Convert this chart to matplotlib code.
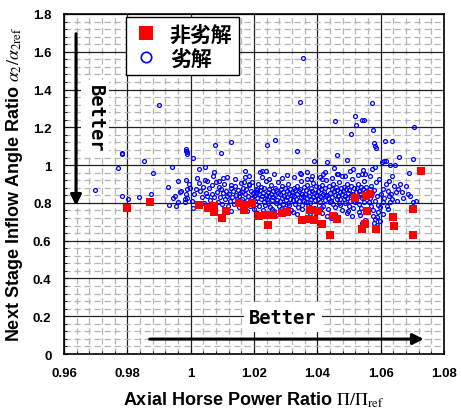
import numpy as np
import matplotlib.pyplot as plt
from matplotlib.ticker import MultipleLocator, FixedLocator

plt.rcParams['mathtext.fontset'] = 'stix'

# non-dominated solutions (red squares)
nd_x = [0.9800, 0.9872, 1.0026, 1.0056, 1.0074, 1.0075, 1.0100, 1.0111, 1.0154, 1.0169,
        1.0167, 1.0195, 1.0217, 1.0235, 1.0245, 1.0259, 1.0287, 1.0303, 1.0351, 1.0377,
        1.0375, 1.0390, 1.0403, 1.0414, 1.0440, 1.0449, 1.0461, 1.0519, 1.0542, 1.0551,
        1.0556, 1.0554, 1.0566, 1.0585, 1.0640, 1.0643, 1.0701, 1.0702, 1.0727]
nd_y = [0.774, 0.803, 0.789, 0.774, 0.785, 0.750, 0.722, 0.757, 0.798, 0.789,
        0.764, 0.798, 0.729, 0.736, 0.685, 0.736, 0.748, 0.750, 0.709, 0.764,
        0.713, 0.711, 0.755, 0.688, 0.632, 0.732, 0.713, 0.826, 0.662, 0.690,
        0.755, 0.835, 0.847, 0.662, 0.727, 0.679, 0.768, 0.632, 0.970]

# dominated solutions (blue open circles), "x y" pairs
dom_pts = """
0.9698 0.870 0.9770 0.986 0.9784 1.059 0.9854 1.020 0.9881 0.958 0.9784 0.836
0.9801 0.821 0.9836 0.829 0.9874 0.845 0.9784 1.063 0.9900 1.318
0.9942 0.992 0.9929 0.882 0.9932 0.789 0.9953 0.782 0.9943 0.826 0.9952 0.835
0.9961 0.916 0.9984 0.921 0.9995 0.898 0.9997 0.879 0.9984 0.849 0.9966 0.858
0.9990 0.824 0.9983 0.803 0.9970 0.865 0.9989 0.873 0.9961 0.803 0.9982 0.821
1.0021 0.933 1.0026 0.979 1.0044 0.992 1.0073 0.962 1.0008 1.038 0.9985 1.075
0.9990 1.059 0.9988 1.068 0.9986 1.083 1.0171 0.939 1.0173 0.970 1.0185 0.901
1.0209 0.870 1.0103 0.930 1.0053 0.916 1.0080 0.912
1.0355 1.567 1.0344 1.336 1.0573 1.330 1.0455 1.232 1.0518 1.260 1.0523 1.214
1.0542 1.240 1.0546 1.240 1.0577 1.184 1.0507 1.166 1.0704 1.203 1.0615 1.129
1.0636 1.129 1.0580 1.115 1.0583 1.103 1.0585 1.092 1.0078 1.108 1.0126 1.124
1.0240 1.105 1.0266 1.133 1.0337 1.075 1.0095 1.066 1.0390 1.023 1.0431 1.015
1.0461 1.053 1.0493 1.029 1.0454 0.985 1.0224 0.967 1.0238 0.967 1.0703 1.032
1.0347 0.953 1.0368 0.962 1.0417 0.953 1.0461 0.953 1.0477 0.944 1.0514 0.979
1.0540 0.953 1.0551 0.953 1.0379 0.926 1.0414 0.926
1.0005 0.812 1.0012 0.846 1.0018 0.872 1.0024 0.797 1.0031 0.861 1.0036 0.829
1.0008 0.775 1.0027 0.905 1.0039 0.884
1.0043 0.801 1.0048 0.853 1.0052 0.838 1.0057 0.879 1.0061 0.816 1.0066 0.893
1.0069 0.846 1.0074 0.829 1.0078 0.771 1.0046 0.921 1.0072 0.940
1.0082 0.858 1.0085 0.806 1.0089 0.884 1.0092 0.833 1.0095 0.872 1.0099 0.792
1.0103 0.851 1.0106 0.899 1.0109 0.819 1.0112 0.864 1.0116 0.838 1.0118 0.781
1.0088 0.918 1.0114 0.935
1.0121 0.846 1.0124 0.812 1.0127 0.877 1.0131 0.829 1.0134 0.861 1.0137 0.795
1.0140 0.889 1.0143 0.842 1.0146 0.818 1.0149 0.869 1.0152 0.776 1.0155 0.853
1.0158 0.904 1.0129 0.757 1.0139 0.925 1.0153 0.834 1.0126 0.896
1.0161 0.823 1.0163 0.858 1.0166 0.881 1.0169 0.804 1.0172 0.846 1.0175 0.872
1.0178 0.816 1.0181 0.837 1.0184 0.893 1.0187 0.785 1.0190 0.862 1.0193 0.828
1.0196 0.851 1.0199 0.766 1.0168 0.912 1.0183 0.941 1.0194 0.908 1.0177 0.757
1.0164 0.791
1.0201 0.839 1.0203 0.812 1.0205 0.874 1.0207 0.795 1.0209 0.856 1.0211 0.828
1.0213 0.901 1.0215 0.847 1.0217 0.781 1.0219 0.866 1.0221 0.818 1.0223 0.886
1.0225 0.835 1.0227 0.762 1.0229 0.852 1.0231 0.804 1.0233 0.877 1.0235 0.826
1.0237 0.918 1.0239 0.843 1.0210 0.745 1.0226 0.939 1.0218 0.962 1.0234 0.789
1.0241 0.821 1.0243 0.858 1.0245 0.801 1.0247 0.873 1.0249 0.836 1.0251 0.776
1.0253 0.849 1.0255 0.893 1.0257 0.814 1.0259 0.862 1.0261 0.831 1.0263 0.756
1.0265 0.878 1.0267 0.842 1.0269 0.797 1.0271 0.868 1.0273 0.817 1.0275 0.909
1.0277 0.851 1.0279 0.783 1.0248 0.928 1.0262 0.951 1.0270 0.738 1.0256 0.769
1.0281 0.846 1.0283 0.809 1.0285 0.871 1.0287 0.827 1.0289 0.889 1.0291 0.794
1.0293 0.857 1.0295 0.838 1.0297 0.772 1.0299 0.881 1.0301 0.815 1.0303 0.864
1.0305 0.832 1.0307 0.902 1.0309 0.799 1.0311 0.851 1.0313 0.823 1.0315 0.874
1.0317 0.761 1.0319 0.842 1.0288 0.932 1.0304 0.946 1.0296 0.748 1.0312 0.787
1.0286 0.768
1.0321 0.858 1.0323 0.816 1.0325 0.879 1.0327 0.834 1.0329 0.796 1.0331 0.867
1.0333 0.823 1.0335 0.891 1.0337 0.845 1.0339 0.778 1.0341 0.861 1.0343 0.808
1.0345 0.874 1.0347 0.829 1.0349 0.915 1.0351 0.849 1.0353 0.766 1.0355 0.837
1.0357 0.883 1.0359 0.812 1.0328 0.937 1.0344 0.958 1.0336 0.742 1.0352 0.791
1.0324 0.753
1.0361 0.847 1.0363 0.805 1.0365 0.869 1.0367 0.826 1.0369 0.893 1.0371 0.783
1.0373 0.856 1.0375 0.838 1.0377 0.797 1.0379 0.878 1.0381 0.819 1.0383 0.864
1.0385 0.833 1.0387 0.905 1.0389 0.771 1.0391 0.852 1.0393 0.815 1.0395 0.887
1.0397 0.841 1.0399 0.758 1.0366 0.929 1.0382 0.944 1.0378 0.737 1.0394 0.726
1.0370 0.763
1.0401 0.862 1.0403 0.821 1.0405 0.884 1.0407 0.838 1.0409 0.803 1.0411 0.871
1.0413 0.829 1.0415 0.896 1.0417 0.848 1.0419 0.786 1.0421 0.859 1.0423 0.813
1.0425 0.877 1.0427 0.834 1.0429 0.921 1.0431 0.844 1.0433 0.769 1.0435 0.826
1.0437 0.888 1.0439 0.806 1.0408 0.939 1.0424 0.962 1.0416 0.748 1.0432 0.728
1.0412 0.775
1.0441 0.852 1.0443 0.811 1.0445 0.874 1.0447 0.833 1.0449 0.898 1.0451 0.795
1.0453 0.861 1.0455 0.842 1.0457 0.779 1.0459 0.883 1.0461 0.823 1.0463 0.867
1.0465 0.836 1.0467 0.911 1.0469 0.801 1.0471 0.856 1.0473 0.818 1.0475 0.879
1.0477 0.763 1.0479 0.846 1.0448 0.934 1.0464 0.955 1.0456 0.741 1.0472 0.788
1.0444 0.721
1.0481 0.864 1.0483 0.818 1.0485 0.886 1.0487 0.837 1.0489 0.802 1.0491 0.873
1.0493 0.828 1.0495 0.901 1.0497 0.853 1.0499 0.784 1.0501 0.866 1.0503 0.812
1.0505 0.889 1.0507 0.841 1.0509 0.927 1.0511 0.849 1.0513 0.771 1.0515 0.832
1.0517 0.879 1.0519 0.806 1.0486 0.942 1.0502 0.968 1.0494 0.746 1.0510 0.732
1.0498 0.758
1.0521 0.857 1.0523 0.815 1.0525 0.878 1.0527 0.836 1.0529 0.902 1.0531 0.792
1.0533 0.864 1.0535 0.846 1.0537 0.775 1.0539 0.885 1.0541 0.824 1.0543 0.871
1.0545 0.839 1.0547 0.918 1.0549 0.803 1.0551 0.859 1.0553 0.761 1.0555 0.882
1.0528 0.947 1.0544 0.975 1.0536 0.738 1.0552 0.712 1.0540 0.696 1.0532 0.754
1.0561 0.846 1.0563 0.803 1.0565 0.872 1.0567 0.827 1.0569 0.891 1.0571 0.781
1.0573 0.853 1.0575 0.761 1.0577 0.732 1.0579 0.868 1.0581 0.812 1.0583 0.715
1.0585 0.908 1.0587 0.724 1.0589 0.838 1.0591 0.789 1.0593 0.750 1.0595 0.926
1.0597 0.776 1.0599 0.706 1.0572 0.979 1.0582 0.988 1.0566 0.943 1.0578 0.695
1.0590 0.682
1.0602 0.847 1.0606 0.803 1.0609 0.872 1.0612 0.826 1.0616 0.900 1.0619 0.785
1.0622 0.861 1.0625 0.838 1.0628 0.916 1.0631 0.806 1.0634 0.847 1.0637 0.821
1.0604 1.018 1.0611 1.020 1.0618 1.023 1.0630 1.000 1.0635 0.944 1.0608 0.742
1.0623 0.765
1.0642 0.891 1.0645 1.002 1.0648 0.858 1.0652 0.812 1.0656 0.873 1.0659 1.041
1.0661 0.900 1.0666 0.859 1.0672 0.826 1.0679 0.889 1.0687 0.847 1.0693 0.838
1.0703 0.803 1.0689 0.956 1.0712 0.812
"""
vals = [float(v) for v in dom_pts.split()]
dom_x = vals[0::2]
dom_y = vals[1::2]

xticks = [0.96, 0.98, 1.00, 1.02, 1.04, 1.06, 1.08]
xtick_labels = ['0.96', '0.98', '1', '1.02', '1.04', '1.06', '1.08']
yticks = [0, 0.2, 0.4, 0.6, 0.8, 1.0, 1.2, 1.4, 1.6, 1.8]
ytick_labels = ['0', '0.2', '0.4', '0.6', '0.8', '1', '1.2', '1.4', '1.6', '1.8']

narrow = ['Liberation Sans Narrow', 'Liberation Sans', 'DejaVu Sans']
cjk = ['Noto Sans CJK JP', 'DejaVu Sans']

fig = plt.figure(figsize=(4.61, 4.14), dpi=100)
ax = fig.add_axes([0.1388, 0.1425, 0.8242, 0.8213])

ax.set_xlim(0.96, 1.08)
ax.set_ylim(0, 1.8)
ax.xaxis.set_major_locator(FixedLocator(xticks))
ax.yaxis.set_major_locator(FixedLocator(yticks))
ax.xaxis.set_minor_locator(MultipleLocator(0.004))
ax.yaxis.set_minor_locator(MultipleLocator(0.04))
ax.set_xticklabels(xtick_labels, fontfamily=narrow, fontweight='bold', fontsize=9.5)
ax.set_yticklabels(ytick_labels, fontfamily=narrow, fontweight='bold', fontsize=9.5)
ax.tick_params(which='major', direction='in', length=3, pad=9)
ax.tick_params(which='minor', direction='in', length=2)

ax.grid(which='minor', color='#b4b4b4', lw=0.9, ls=(0, (5, 3)))
ax.grid(which='major', color='#202020', lw=0.9, ls='-')
ax.set_axisbelow(True)
for s in ax.spines.values():
    s.set_linewidth(1.2)
    s.set_color('black')

ax.plot(dom_x, dom_y, 'o', ms=2.8, mfc='none', mec='#0000ff', mew=0.9,
        ls='none', label='劣解', zorder=3)
ax.plot(nd_x, nd_y, 's', ms=5.8, mfc='#ff0000', mec='#ff0000', mew=0,
        ls='none', label='非劣解', zorder=4)

# "Better" arrows
ax.annotate('', xy=(0.9638, 0.77), xytext=(0.9638, 1.71),
            arrowprops=dict(arrowstyle='-|>', lw=2.2, color='black', mutation_scale=16),
            zorder=5)
ax.annotate('', xy=(1.0745, 0.079), xytext=(0.9862, 0.079),
            arrowprops=dict(arrowstyle='-|>', lw=2.2, color='black', mutation_scale=16),
            zorder=5)
ax.text(0.9698, 1.25, 'Better', rotation=-90, ha='center', va='center',
        fontfamily='DejaVu Sans Mono', fontweight='bold', fontsize=13.5,
        bbox=dict(facecolor='white', edgecolor='none', pad=3), zorder=5)
ax.text(1.0292, 0.195, 'Better', ha='center', va='center',
        fontfamily='DejaVu Sans Mono', fontweight='bold', fontsize=13.5,
        bbox=dict(facecolor='white', edgecolor='none', pad=4), zorder=5)

h, l = ax.get_legend_handles_labels()
leg = ax.legend(h[::-1], l[::-1], loc='upper left', bbox_to_anchor=(0.163, 0.991),
                borderaxespad=0, fancybox=False, framealpha=1, edgecolor='black',
                prop={'family': cjk, 'weight': 'bold', 'size': 15},
                handletextpad=0.5, borderpad=0.3,
                labelspacing=0.15, handlelength=1.3)
leg.get_frame().set_linewidth(1.0)
leg.legend_handles[0].set_markersize(10)
leg.legend_handles[1].set_markersize(7.5)
leg.legend_handles[1].set_markeredgewidth(1.2)
leg.set_zorder(6)

ax.set_xlabel(r'Axial Horse Power Ratio $\Pi/\Pi_{\rm ref}$',
              fontfamily=narrow, fontweight='bold', fontsize=13, labelpad=8)
ax.set_ylabel(r'Next Stage Inflow Angle Ratio $\alpha_2/\alpha_{2\rm ref}$',
              fontfamily=narrow, fontweight='bold', fontsize=13, labelpad=6)

fig.savefig('out.png', dpi=100)
